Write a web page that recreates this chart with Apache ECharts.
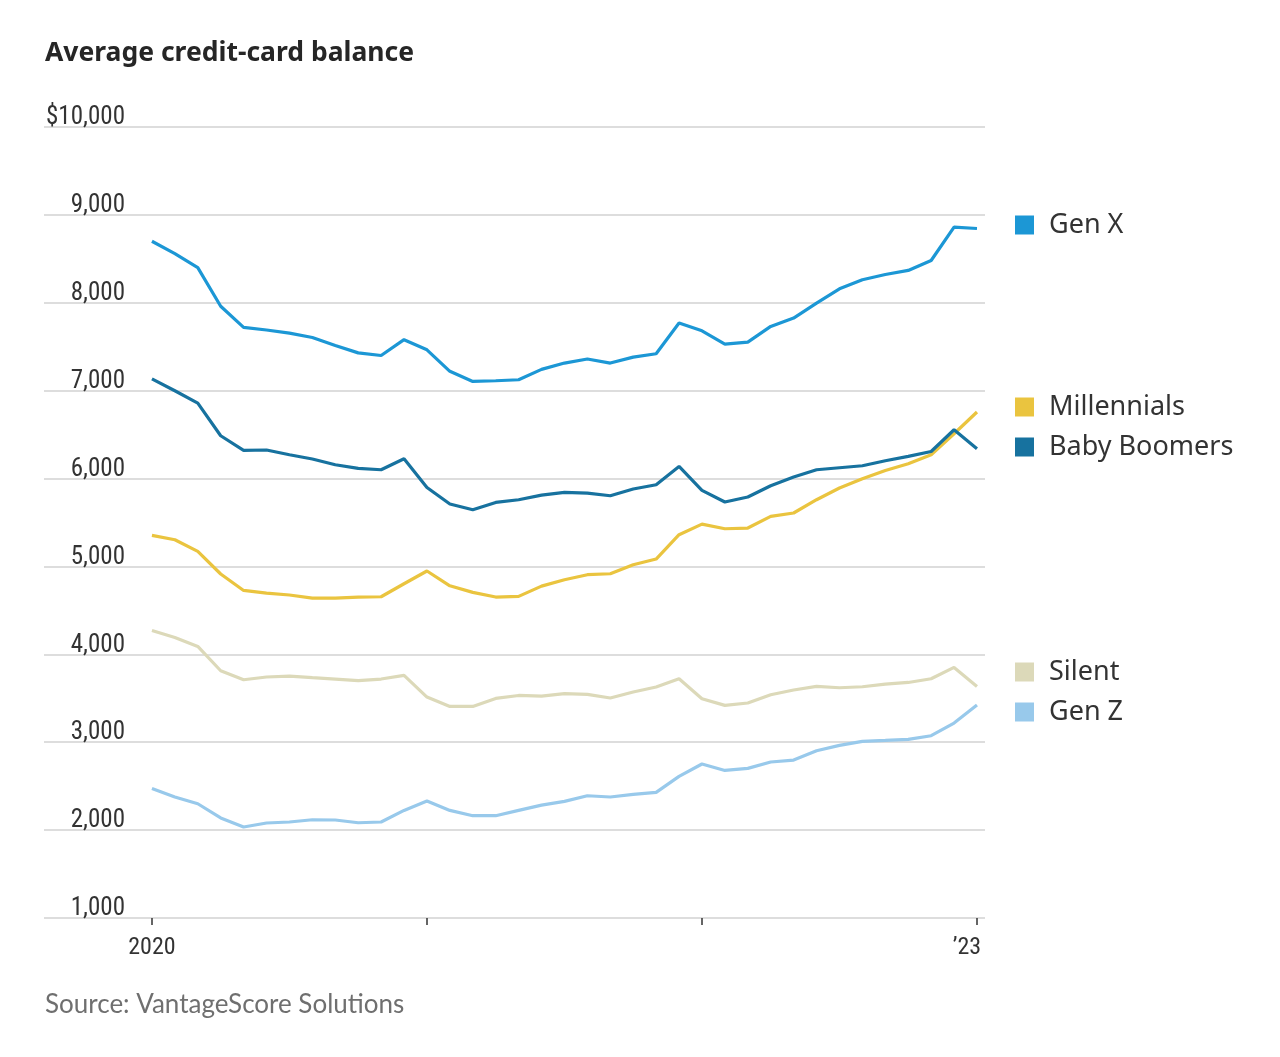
<!DOCTYPE html>
<html>
<head>
<meta charset="utf-8">
<script src="https://cdn.jsdelivr.net/npm/echarts@6/dist/echarts.min.js"></script>
<style>
html,body{margin:0;padding:0;background:#fff;}
#chart{width:1280px;height:1057px;}
</style>
</head>
<body>
<div id="chart"></div>
<script>
// Monthly, Jan 2020 (index 0) to Jan 2023 (index 36)
const monthIndex = Array.from({length: 37}, (_, i) => i);
const genX = [8700,8560,8400,7960,7720,7690,7655,7605,7515,7430,7400,7580,7465,7220,7105,7113,7124,7242,7314,7360,7314,7382,7420,7769,7681,7530,7553,7731,7826,7997,8159,8262,8322,8368,8481,8861,8845];
const babyBoomers = [7135,6999,6859,6487,6320,6325,6271,6222,6157,6115,6100,6225,5899,5710,5645,5728,5759,5812,5842,5835,5804,5881,5929,6138,5865,5733,5790,5918,6017,6100,6123,6146,6203,6252,6308,6555,6339];
const millennials = [5353,5304,5171,4914,4727,4697,4675,4640,4640,4652,4655,4803,4948,4780,4705,4652,4659,4776,4849,4906,4917,5019,5084,5361,5482,5429,5437,5569,5608,5759,5892,5998,6092,6168,6271,6510,6757];
const silent = [4272,4192,4090,3813,3711,3742,3753,3734,3719,3700,3719,3760,3514,3407,3407,3498,3532,3525,3552,3544,3503,3571,3628,3722,3495,3419,3446,3540,3594,3635,3620,3631,3662,3680,3722,3851,3635];
const genZ = [2474,2377,2300,2138,2035,2081,2092,2118,2115,2084,2092,2224,2331,2224,2164,2164,2224,2284,2327,2391,2377,2406,2429,2611,2752,2679,2702,2775,2797,2903,2964,3009,3020,3032,3074,3218,3423];

const seriesNames = ['Gen X','Millennials','Baby Boomers','Silent','Gen Z'];
const seriesColors = {'Gen X':'#1c97d5','Millennials':'#eac43f','Baby Boomers':'#17729f','Silent':'#dcd9b9','Gen Z':'#98c9eb'};
const yTicks = [1000,2000,3000,4000,5000,6000,7000,8000,9000,10000];
const xTickValues = [0,12,24,36];
const xTickLabels = {0:'2020',36:'’23'};
const legendTops = {'Gen X':210,'Millennials':392,'Baby Boomers':432,'Silent':657,'Gen Z':697};

const dataMap = {'Gen X':genX,'Millennials':millennials,'Baby Boomers':babyBoomers,'Silent':silent,'Gen Z':genZ};
const drawOrder = ['Silent','Gen Z','Millennials','Baby Boomers','Gen X'];

const narrow = '"Liberation Sans Narrow","Roboto Condensed","DejaVu Sans Condensed",sans-serif';

const chart = echarts.init(document.getElementById('chart'), null, {renderer:'canvas'});
chart.setOption({
  animation:false,
  backgroundColor:'#ffffff',
  title:{
    text:'Average credit-card balance',
    left:45, top:40, padding:0,
    textStyle:{fontFamily:'"Noto Sans",sans-serif', fontWeight:'bold', fontSize:26.5, color:'#262626'}
  },
  legend: seriesNames.map(n => ({
    data:[{name:n, icon:'rect'}],
    left:1015, top:legendTops[n], padding:0,
    itemWidth:19, itemHeight:19,
    selectedMode:false,
    textStyle:{fontFamily:'"Noto Sans",sans-serif', fontSize:27, color:'#333333', lineHeight:30, padding:[0,0,0,10]}
  })),
  grid:{left:44, right:295, top:127, bottom:139},
  xAxis:{
    type:'value', min:-4.71, max:36.35,
    splitLine:{show:false},
    axisLine:{show:false},
    axisTick:{show:true, customValues:xTickValues, length:7, lineStyle:{color:'#333333', width:1.5}},
    axisLabel:{
      customValues:xTickValues, margin:18,
      fontFamily:narrow, fontSize:24, color:'#333333',
      formatter: v => v === 36 ? '{r|' + xTickLabels[36] + '}' : (xTickLabels[v] || ''),
      rich:{r:{fontFamily:narrow, fontSize:24, color:'#333333', padding:[0,20,0,0]}}
    }
  },
  yAxis:{
    type:'value', min:yTicks[0], max:yTicks[yTicks.length-1], interval:1000,
    axisLine:{show:false}, axisTick:{show:false},
    splitLine:{show:true, lineStyle:{color:'#dddddd', width:2}},
    axisLabel:{
      inside:true, align:'right', margin:81, verticalAlign:'middle',
      formatter: v => '{y|' + (v === 10000 ? '$' : '') + v.toLocaleString('en-US') + '}',
      rich:{y:{fontFamily:narrow, fontSize:25, color:'#333333', lineHeight:26, padding:[0,0,18,0]}}
    }
  },
  series: drawOrder.map(n => ({
    name:n, type:'line',
    data: monthIndex.map(i => [i, dataMap[n][i]]),
    showSymbol:false, symbol:'none',
    lineStyle:{color:seriesColors[n], width:3.2},
    itemStyle:{color:seriesColors[n]},
    emphasis:{disabled:true}
  })),
  graphic:[{
    type:'text', left:45, top:992,
    style:{text:'Source: VantageScore Solutions', fontFamily:'Lato,sans-serif', fontSize:26, fill:'#6f6f6f'}
  }]
});
</script>
</body>
</html>
